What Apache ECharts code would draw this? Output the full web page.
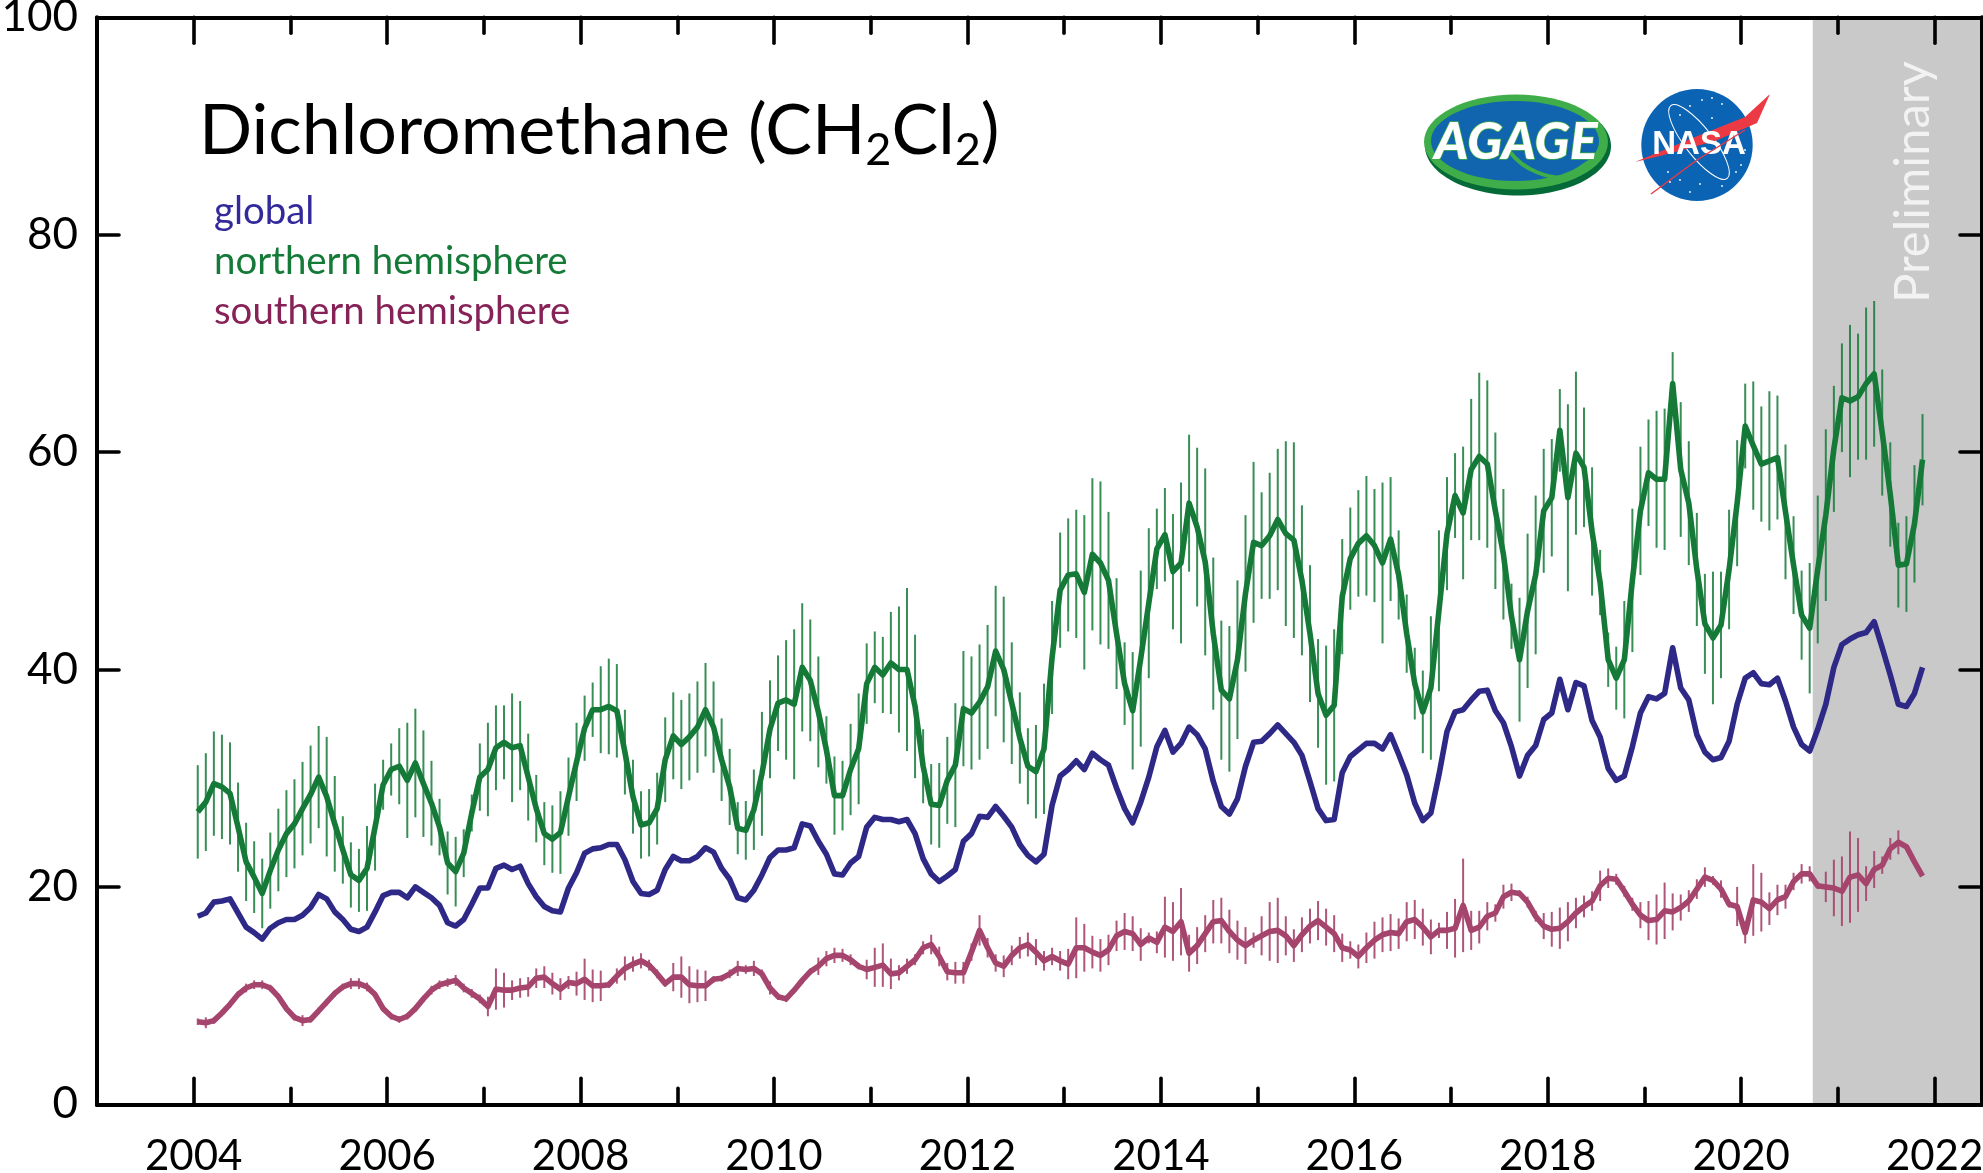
<!DOCTYPE html>
<html>
<head>
<meta charset="utf-8">
<title>Dichloromethane</title>
<script src="https://cdn.jsdelivr.net/npm/echarts@6/dist/echarts.min.js"></script>
<style>
  html, body { margin: 0; padding: 0; background: #fff; }
  #chart { width: 1983px; height: 1173px; }
</style>
</head>
<body>
<div id="chart"></div>
<script>
// monthly values starting Jan 2004
var globalVals = [
  17.3,17.6,18.6,18.7,18.9,17.6,16.3,15.8,15.2,16.2,16.7,17.0,17.0,17.4,18.1,19.3,18.9,17.7,17.0,16.1,15.9,16.3,17.7,19.2,19.5,19.5,19.0,20.0,19.5,19.0,18.3,16.7,16.4,17.0,18.4,19.9,
  19.9,21.7,22.0,21.6,21.9,20.3,19.1,18.2,17.8,17.7,19.9,21.3,23.1,23.5,23.6,23.9,23.9,22.5,20.5,19.4,19.3,19.7,21.6,22.8,22.4,22.4,22.8,23.6,23.2,21.7,20.7,19.0,18.8,19.7,21.1,22.7,
  23.4,23.4,23.6,25.8,25.6,24.2,23.0,21.2,21.1,22.2,22.8,25.5,26.4,26.2,26.2,26.0,26.2,24.9,22.6,21.2,20.5,21.0,21.6,24.2,24.9,26.5,26.4,27.4,26.5,25.5,23.9,22.9,22.3,23.0,27.5,30.2,
  30.8,31.6,30.8,32.3,31.7,31.2,29.1,27.2,25.9,27.8,30.1,32.9,34.4,32.4,33.2,34.7,34.0,32.7,29.7,27.4,26.7,28.1,31.1,33.3,33.4,34.1,34.9,34.1,33.3,32.1,29.7,27.2,26.1,26.2,30.5,32.0,
  32.6,33.2,33.2,32.7,34.0,32.2,30.3,27.7,26.1,26.8,30.3,34.3,36.1,36.3,37.2,38.0,38.1,36.2,35.1,32.9,30.2,32.1,33.0,35.4,36.0,39.1,36.3,38.8,38.5,35.3,33.8,30.9,29.8,30.2,32.9,36.0,
  37.5,37.3,37.8,42.0,38.3,37.2,34.0,32.4,31.7,31.9,33.4,36.8,39.2,39.7,38.7,38.6,39.2,37.1,34.7,33.1,32.5,34.5,36.8,40.2,42.3,42.8,43.2,43.4,44.4,42.0,39.5,36.8,36.6,37.8,40.2
];
var northVals = [
  26.9,27.8,29.5,29.2,28.6,25.5,22.3,20.9,19.4,21.5,23.4,24.9,25.8,27.2,28.5,30.1,28.3,25.8,23.4,21.1,20.6,21.7,25.5,29.4,30.8,31.1,29.8,31.4,29.5,27.7,25.5,22.2,21.4,23.1,26.8,30.1,
  30.8,32.8,33.3,32.8,33.0,30.1,27.2,24.9,24.4,25.0,28.3,31.5,34.6,36.3,36.3,36.6,36.2,32.4,28.3,25.7,25.9,27.2,31.7,33.9,33.1,33.8,34.7,36.3,34.7,31.7,29.2,25.4,25.2,27.1,30.4,34.5,
  36.9,37.2,36.8,40.2,39.0,36.1,32.6,28.4,28.4,30.8,32.7,38.7,40.2,39.5,40.6,40.0,40.0,36.6,31.1,27.6,27.5,29.8,31.2,36.4,36.0,37.0,38.4,41.7,40.0,36.9,33.7,31.1,30.6,32.7,41.1,47.3,
  48.7,48.8,47.1,50.6,49.8,48.2,43.3,38.7,36.2,41.0,46.1,51.1,52.4,49.0,49.8,55.3,53.1,49.9,43.3,38.1,37.3,40.9,47.0,51.7,51.4,52.3,53.8,52.5,51.9,48.2,43.3,37.8,35.8,36.7,46.7,50.2,
  51.6,52.3,51.4,49.8,52.0,48.7,43.3,38.7,36.1,38.3,45.4,52.5,56.0,54.4,58.4,59.6,58.9,54.6,50.6,44.9,40.9,45.4,48.7,54.6,55.8,62.0,55.8,59.9,58.6,52.7,48.0,40.9,39.2,40.9,48.2,54.6,
  58.1,57.5,57.5,66.3,58.4,55.3,49.2,44.2,42.9,44.1,49.2,55.3,62.4,60.6,58.9,59.2,59.5,54.5,49.6,45.0,43.8,49.2,54.2,60.3,65.0,64.7,65.1,66.3,67.2,61.8,56.1,49.6,49.7,53.4,59.3
];
var northErr = [
  4.3,4.5,4.8,4.8,4.7,4.1,3.6,3.3,3.2,3.5,3.8,4.0,4.1,4.3,4.5,4.7,5.5,4.4,3.1,3.0,2.9,3.9,4.0,2.3,2.4,3.5,5.3,5.0,4.9,3.9,2.6,2.9,3.2,2.2,1.7,3.1,
  4.3,3.9,3.4,5.0,4.1,4.0,3.1,2.9,3.1,3.8,3.6,3.6,3.0,2.5,4.0,4.4,4.3,3.9,3.4,3.1,3.1,3.3,3.9,4.0,4.1,4.0,4.2,4.3,4.2,3.8,3.5,2.4,2.7,3.7,5.7,4.5,
  4.4,5.5,6.9,5.9,5.6,5.1,3.1,3.6,3.2,4.2,5.1,3.7,3.3,3.5,4.7,5.8,7.5,6.6,3.4,3.7,3.9,4.0,5.7,5.3,5.2,5.3,5.7,6.0,6.7,5.6,4.2,3.5,4.3,6.0,5.2,5.3,
  5.2,5.9,7.1,7.0,7.5,6.3,5.1,3.8,5.4,8.1,6.9,3.7,4.3,5.3,7.4,6.3,7.3,8.6,7.0,6.4,6.7,7.3,7.2,7.4,4.9,5.8,6.5,8.5,9.0,6.9,6.3,5.0,6.4,7.0,5.3,4.7,
  4.9,5.5,5.2,7.4,5.7,4.1,3.6,3.3,3.8,6.6,7.4,5.2,3.9,6.1,6.5,7.7,7.7,7.2,6.0,3.0,5.7,7.1,7.3,5.7,5.4,3.8,8.6,7.5,5.5,5.9,3.0,2.5,2.9,5.4,6.6,5.9,
  4.9,6.3,6.5,2.9,6.2,5.7,5.2,4.6,6.1,4.9,5.5,5.8,3.9,5.9,5.3,6.4,5.7,6.2,4.5,4.1,6.0,6.8,7.9,5.8,5.0,7.0,5.8,7.0,6.7,5.8,4.8,3.9,4.4,5.4,4.2
];
var southVals = [
  7.6,7.5,7.7,8.4,9.2,10.1,10.7,11.0,11.0,10.7,9.9,8.8,8.0,7.7,7.8,8.6,9.4,10.2,10.8,11.1,11.1,10.8,10.1,8.8,8.1,7.8,8.1,8.8,9.7,10.5,11.0,11.2,11.4,10.7,10.2,9.7,
  9.0,10.6,10.5,10.5,10.7,10.8,11.6,11.7,11.1,10.6,11.2,11.1,11.5,10.9,10.9,11.0,11.8,12.5,12.9,13.2,12.8,12.0,11.1,11.7,11.7,11.0,10.9,10.9,11.5,11.6,12.0,12.5,12.4,12.5,12.0,10.7,
  9.9,9.7,10.5,11.4,12.2,12.7,13.4,13.7,13.7,13.3,12.7,12.4,12.6,12.8,12.0,12.1,12.7,13.3,14.4,14.7,13.6,12.2,12.1,12.1,14.0,16.0,14.4,13.0,12.7,13.7,14.4,14.7,14.0,13.2,13.6,13.2,
  12.9,14.4,14.4,14.0,13.7,14.2,15.5,15.9,15.7,14.7,15.3,14.9,16.3,15.9,16.8,13.9,14.6,15.7,16.8,16.9,15.9,15.1,14.6,15.1,15.5,15.9,16.0,15.5,14.6,15.6,16.4,16.9,16.3,15.7,14.4,14.2,
  13.6,14.4,15.1,15.6,15.8,15.7,16.8,17.0,16.3,15.4,16.0,16.0,16.2,18.3,16.0,16.3,17.3,17.6,19.1,19.5,19.4,18.6,17.3,16.4,16.1,16.2,16.8,17.6,18.2,18.7,20.1,20.8,20.7,19.6,18.4,17.4,
  16.9,17.0,17.8,17.7,18.1,18.7,19.8,20.9,20.6,19.8,18.4,18.2,15.8,18.8,18.6,18.0,18.8,19.1,20.5,21.2,21.2,20.1,20.0,19.9,19.6,20.9,21.1,20.3,21.6,22.0,23.5,24.1,23.7,22.3,21.0
];
var southErr = [
  .3,.5,.3,.3,.3,.3,.4,.4,.4,.3,.3,.3,.3,.5,.3,.3,.3,.3,.3,.5,.5,.4,.3,.3,.3,.3,.3,.3,.3,.4,.4,.4,.5,.4,.4,.4,
  .9,1.9,1.6,.9,.9,.9,.9,1.0,1.0,1.0,.6,1.1,1.9,1.5,1.4,.3,.7,1.1,.7,.7,.5,.4,.3,1.3,1.9,1.7,1.5,1.4,.3,.3,.4,.7,.4,.7,.4,.6,
  .3,.3,.3,.3,.3,.8,.7,.7,.6,.5,.3,.9,1.8,2.0,1.4,.7,.7,.5,.6,.9,.9,.8,1.0,1.0,.8,1.4,.9,.8,1.0,.9,1.0,1.1,1.2,.9,.8,.9,
  1.4,2.8,2.2,1.5,1.5,1.4,1.4,1.7,1.6,1.5,.5,1.0,2.8,2.7,3.1,1.7,1.7,1.7,2.0,2.1,2.0,1.8,1.7,.7,1.8,2.7,3.0,1.8,1.5,1.6,1.6,1.8,1.7,1.7,1.3,.8,
  1.1,1.4,1.7,1.6,1.7,1.4,1.8,1.8,1.7,1.6,.7,1.7,2.7,4.3,1.8,1.5,1.3,.8,1.1,.8,.3,.5,.5,1.2,1.6,1.9,1.8,1.4,1.0,.9,1.4,.9,.5,.5,.6,1.2,
  1.8,2.3,2.6,1.7,1.2,1.0,.9,.9,.4,.8,.3,1.8,1.0,3.3,2.7,1.5,1.4,1.1,.8,.9,.7,.3,1.4,2.6,3.2,4.2,3.4,1.6,1.7,.8,1.0,1.1,0,0,0
];
var majorYears = [2004,2006,2008,2010,2012,2014,2016,2018,2020,2022];
var minorYears = [2005,2007,2009,2011,2013,2015,2017,2019,2021];
var prelimStart = 2020.74;
var xMin = 2003, xMax = 2022.49;

var chart = echarts.init(document.getElementById('chart'));

var BLUE = '#2e2887', GREEN = '#157a38', MAROON = '#a5446c';

function monthX(i) { return 2004 + (i + 0.5) / 12; }

function linePoints(vals) {
  return vals.map(function (v, i) { return [monthX(i), v]; });
}

function barPoints(vals, errs) {
  var out = [];
  vals.forEach(function (v, i) {
    if (errs[i] > 0) out.push([monthX(i), v - errs[i], v + errs[i]]);
  });
  return out;
}

function barSeries(data, color, opacity) {
  return {
    type: 'custom',
    silent: true,
    z: 3,
    data: data,
    encode: { x: 0, y: [1, 2] },
    renderItem: function (params, api) {
      var a = api.coord([api.value(0), api.value(1)]);
      var b = api.coord([api.value(0), api.value(2)]);
      return {
        type: 'line',
        shape: { x1: a[0], y1: a[1], x2: b[0], y2: b[1] },
        style: { stroke: color, lineWidth: 2, opacity: opacity }
      };
    }
  };
}

function lineSeries(name, vals, color) {
  return {
    name: name,
    type: 'line',
    z: 4,
    symbol: 'none',
    lineStyle: { color: color, width: 5.6, join: 'round' },
    itemStyle: { color: color },
    data: linePoints(vals)
  };
}

function xAxisOf(pos, years, len, labels) {
  return {
    type: 'value', position: pos, min: xMin, max: xMax, z: 5,
    splitLine: { show: false },
    axisLine: { show: true, onZero: false, lineStyle: { color: '#000', width: 4 } },
    axisTick: { show: true, inside: true, length: len, customValues: years, lineStyle: { color: '#000', width: 3.6, cap: 'round' } },
    axisLabel: labels
      ? { show: true, customValues: years, margin: 31, fontSize: 42, fontFamily: 'Lato', color: '#000', formatter: function (v) { return String(v); } }
      : { show: false }
  };
}

function yAxisOf(pos, showLabels) {
  return {
    type: 'value', position: pos, min: 0, max: 100, interval: 20, z: 5,
    splitLine: { show: false },
    axisLine: { show: true, onZero: false, lineStyle: { color: '#000', width: 4 } },
    axisTick: { show: true, inside: true, length: 22, lineStyle: { color: '#000', width: 3.6, cap: 'round' } },
    axisLabel: showLabels ? { show: true, margin: 19, fontSize: 44, fontFamily: 'Lato', color: '#000', padding: [4, 0, 0, 0] } : { show: false }
  };
}

var starDots = [[1668,172],[1680,180],[1700,184],[1722,186],[1736,172],[1741,165],[1670,182],[1690,192],[1702,100],[1712,98],[1690,106],[1680,115],[1722,104],[1712,118],[1745,150]];

var logos = [
  // AGAGE logo
  { type: 'ellipse', shape: { cx: 1518, cy: 146, rx: 93, ry: 49.5 }, style: { fill: '#046a38' } },
  { type: 'ellipse', shape: { cx: 1516, cy: 142, rx: 92, ry: 47.5 }, style: { fill: '#3fad49' } },
  { type: 'ellipse', shape: { cx: 1515, cy: 141, rx: 84, ry: 40 }, style: { fill: '#1164ae' } },
  { type: 'bezierCurve', shape: { x1: 1510, y1: 152, x2: 1565, y2: 178, cpx1: 1525, cpy1: 172, cpx2: 1550, cpy2: 178 }, style: { stroke: '#3fad49', lineWidth: 4, fill: null } },
  { type: 'line', shape: { x1: 1565, y1: 178, x2: 1592, y2: 160 }, style: { stroke: '#3fad49', lineWidth: 4 } },
  { type: 'text', x: 1516, y: 142, style: { text: 'AGAGE', font: 'italic 900 52px Lato', fill: '#fff', stroke: '#3fad49', lineWidth: 1.5, align: 'center', verticalAlign: 'middle' } },
  // NASA logo
  { type: 'ellipse', shape: { cx: 1697, cy: 145, rx: 55.7, ry: 56 }, style: { fill: '#0a63b3' } },
  { type: 'ellipse', x: 1699, y: 142, rotation: 0.66, shape: { cx: 0, cy: 0, rx: 14, ry: 46 }, style: { fill: null, stroke: '#fff', lineWidth: 1 } },
  { type: 'polygon', shape: { points: [[1635,162],[1695,137],[1745,117],[1770,94],[1757,123],[1715,141],[1660,156]] }, style: { fill: '#ec3a44' } },
  { type: 'text', x: 1699, y: 145, style: { text: 'NASA', font: 'bold 33px "Liberation Sans"', fill: '#fff', align: 'center', verticalAlign: 'middle' } },
  { type: 'polyline', shape: { points: [[1651,194],[1697,160],[1745,130]] }, style: { stroke: '#ec3a44', lineWidth: 1.4, fill: null } }
].concat(starDots.map(function (p) {
  return { type: 'circle', shape: { cx: p[0], cy: p[1], r: 0.9 }, style: { fill: '#fff' } };
}));

var option = {
  animation: false,
  backgroundColor: '#fff',
  textStyle: { fontFamily: 'Lato' },
  title: {
    left: 199, top: 89, padding: 0,
    text: '{a|Dichloromethane (CH}{s|2}{a|Cl}{s|2}{a|)}',
    textStyle: {
      rich: {
        a: { fontSize: 70, fontWeight: 'normal', fontFamily: 'Lato', color: '#000', lineHeight: 84, verticalAlign: 'middle' },
        s: { fontSize: 45, fontWeight: 'normal', fontFamily: 'Lato', color: '#000', lineHeight: 46, verticalAlign: 'bottom' }
      }
    }
  },
  legend: {
    left: 209, top: 192, padding: 0, orient: 'vertical', align: 'left',
    itemWidth: 0, itemHeight: 0, itemGap: 10, icon: 'none', selectedMode: false,
    textStyle: { fontSize: 38.4, fontFamily: 'Lato', lineHeight: 40 },
    data: [
      { name: 'global', textStyle: { color: '#33299a' } },
      { name: 'northern hemisphere', textStyle: { color: '#157a38' } },
      { name: 'southern hemisphere', textStyle: { color: '#862257' } }
    ]
  },
  grid: { left: 97, right: 1, top: 17.3, bottom: 68.7, containLabel: false, outerBoundsMode: 'none' },
  xAxis: [
    xAxisOf('bottom', majorYears, 26, true),
    xAxisOf('bottom', minorYears, 16, false),
    xAxisOf('top', majorYears, 26, false),
    xAxisOf('top', minorYears, 16, false)
  ],
  yAxis: [yAxisOf('left', true), yAxisOf('right', false)],
  graphic: { elements: logos.concat([
    { type: 'text', x: 1913, y: 182, rotation: Math.PI / 2, z: 4,
      style: { text: 'Preliminary', font: '49px Lato', fill: '#f2f2f2', align: 'center', verticalAlign: 'middle' } }
  ]) },
  series: [
    Object.assign(lineSeries('global', globalVals, BLUE), {
      markArea: {
        silent: true,
        itemStyle: { color: '#c9c9c9', opacity: 1 },
        data: [[{ xAxis: prelimStart, yAxis: 0 }, { xAxis: xMax, yAxis: 100 }]]
      }
    }),
    barSeries(barPoints(northVals, northErr), GREEN, 0.85),
    lineSeries('northern hemisphere', northVals, GREEN),
    barSeries(barPoints(southVals, southErr), MAROON, 0.9),
    lineSeries('southern hemisphere', southVals, MAROON)
  ]
};

chart.setOption(option);
</script>
</body>
</html>
